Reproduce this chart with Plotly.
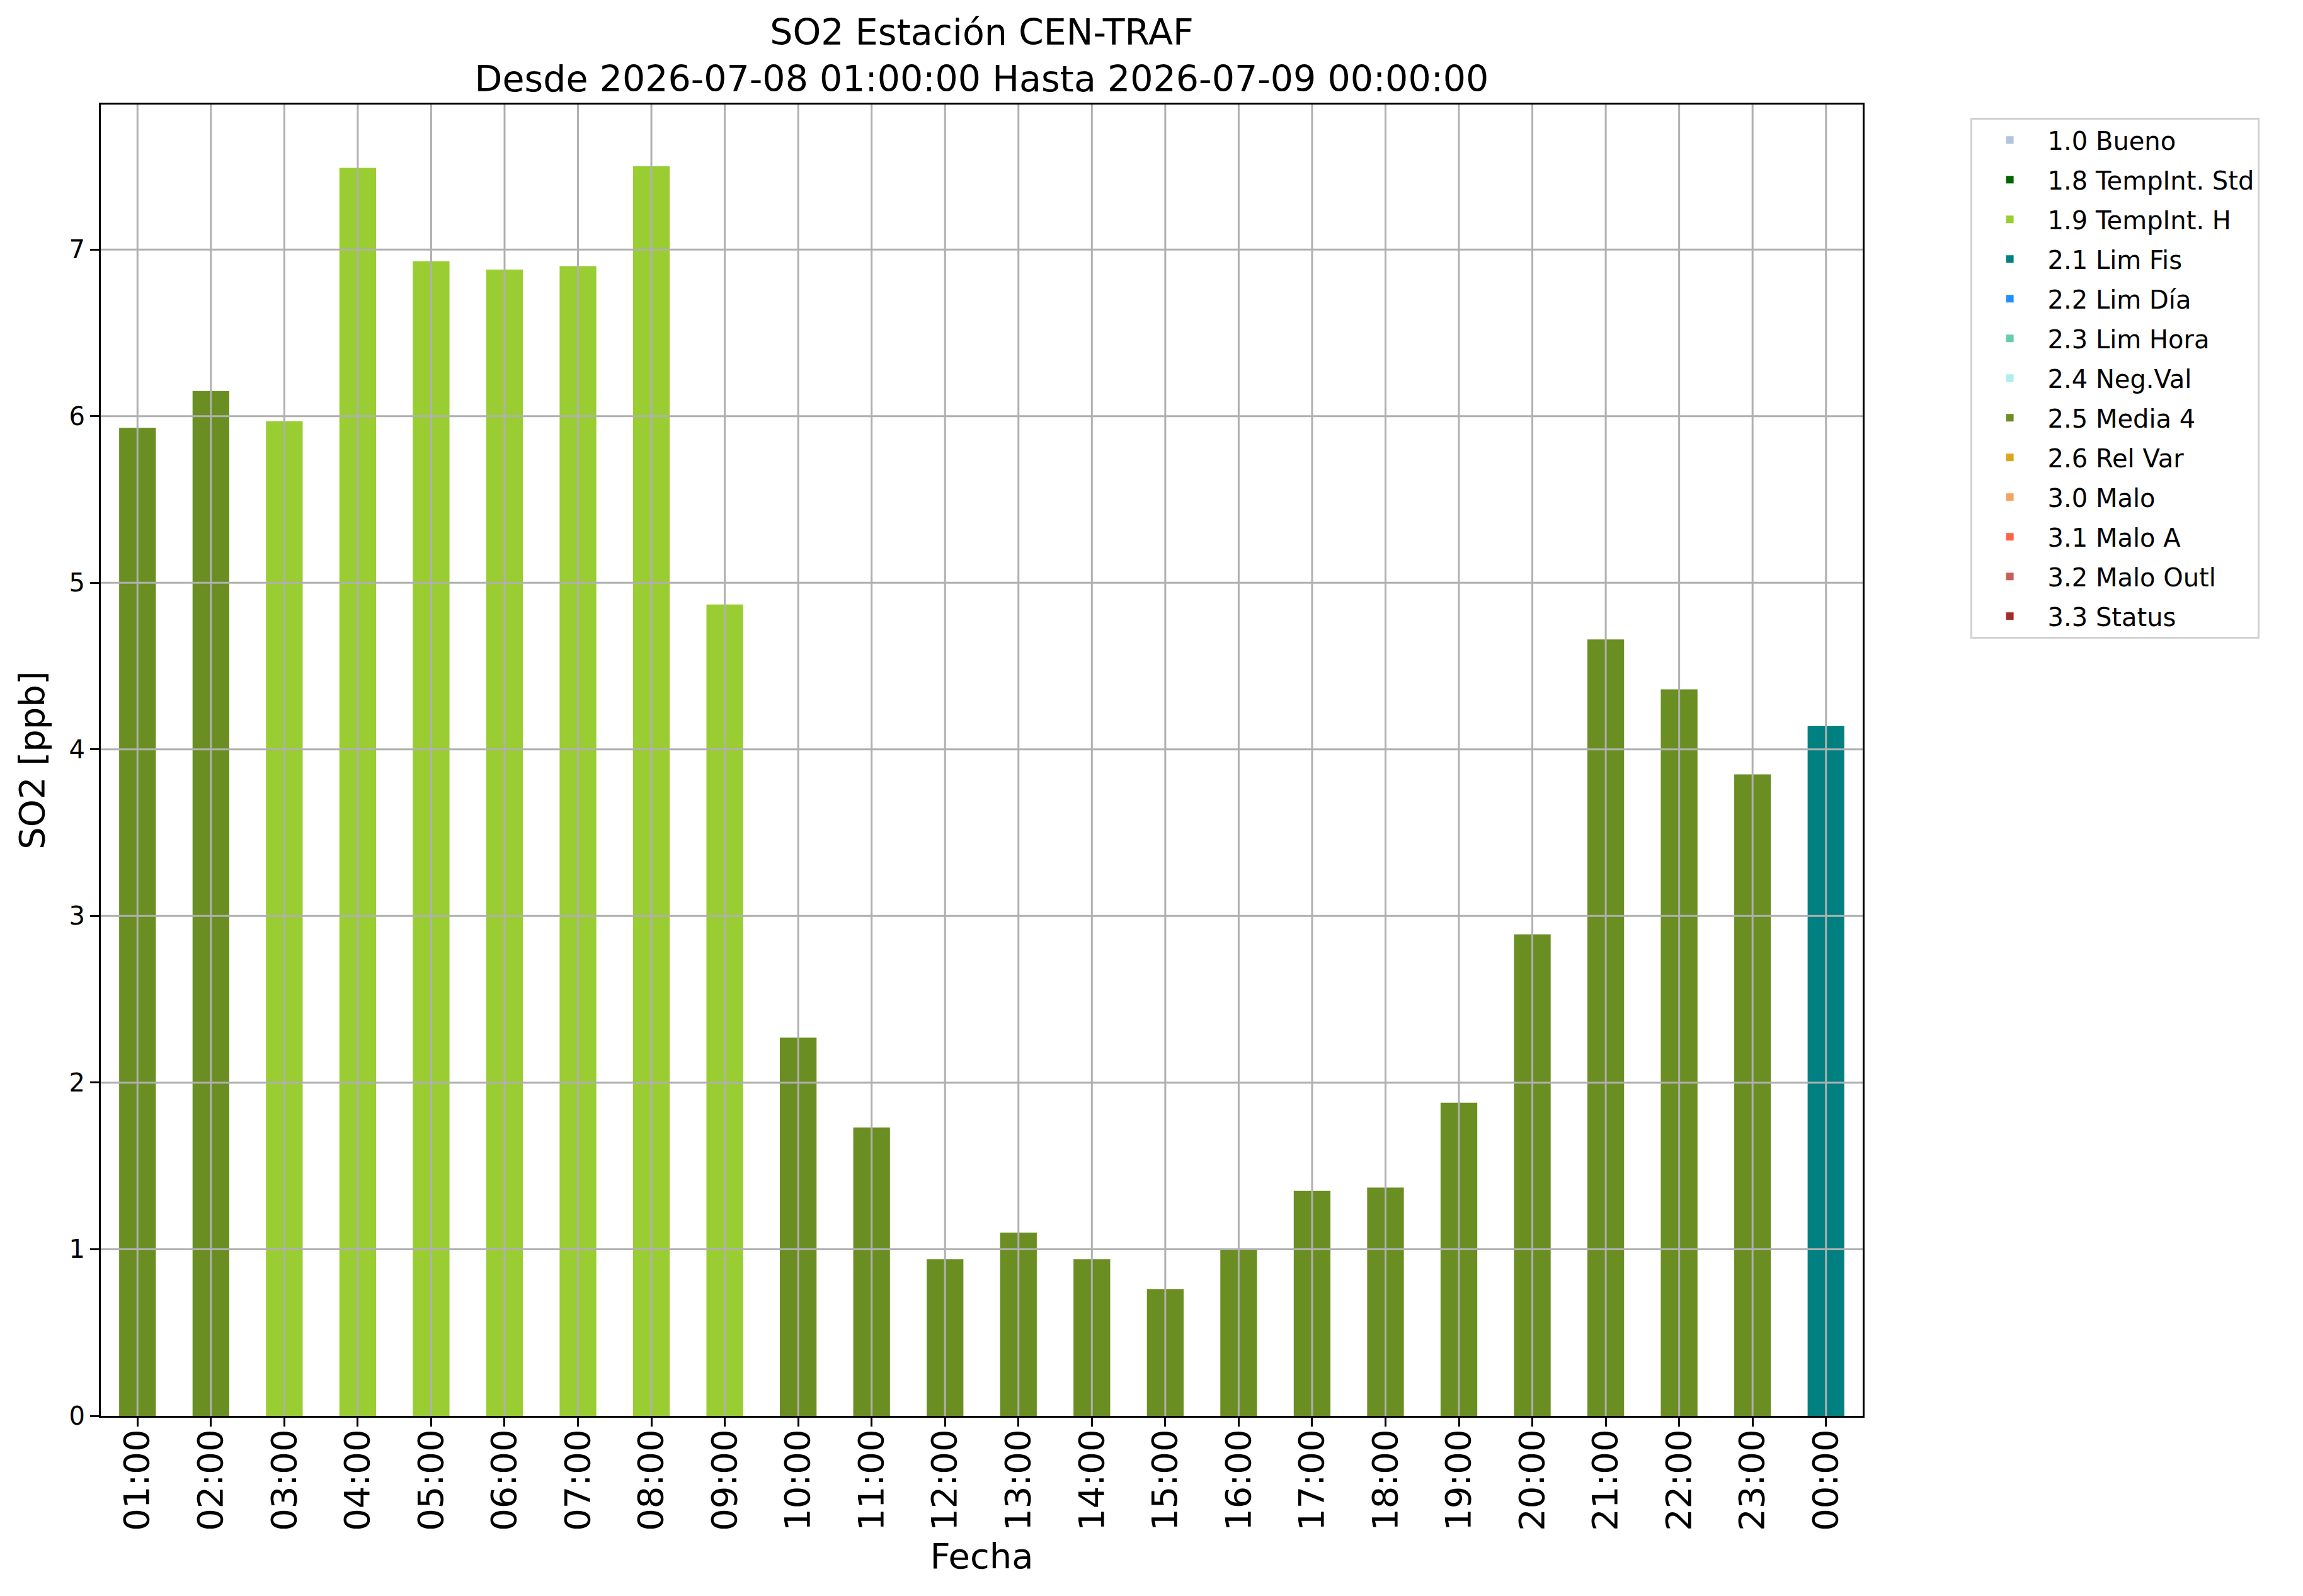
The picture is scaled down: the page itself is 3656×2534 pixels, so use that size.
import plotly.graph_objects as go

# hourly SO2 values, with the validation flag of each hour
hours = ["01:00", "02:00", "03:00", "04:00", "05:00", "06:00", "07:00", "08:00",
         "09:00", "10:00", "11:00", "12:00", "13:00", "14:00", "15:00", "16:00",
         "17:00", "18:00", "19:00", "20:00", "21:00", "22:00", "23:00", "00:00"]
so2_ppb = [5.93, 6.15, 5.97, 7.49, 6.93, 6.88, 6.90, 7.50,
           4.87, 2.27, 1.73, 0.94, 1.10, 0.94, 0.76, 1.00,
           1.35, 1.37, 1.88, 2.89, 4.66, 4.36, 3.85, 4.14]
flags = ["2.5", "2.5", "1.9", "1.9", "1.9", "1.9", "1.9", "1.9",
         "1.9", "2.5", "2.5", "2.5", "2.5", "2.5", "2.5", "2.5",
         "2.5", "2.5", "2.5", "2.5", "2.5", "2.5", "2.5", "2.1"]

flag_labels = ["1.0 Bueno", "1.8 TempInt. Std", "1.9 TempInt. H", "2.1 Lim Fis",
               "2.2 Lim Día", "2.3 Lim Hora", "2.4 Neg.Val", "2.5 Media 4",
               "2.6 Rel Var", "3.0 Malo", "3.1 Malo A", "3.2 Malo Outl", "3.3 Status"]
flag_colors = ["lightsteelblue", "darkgreen", "yellowgreen", "teal",
               "dodgerblue", "mediumaquamarine", "paleturquoise", "olivedrab",
               "goldenrod", "sandybrown", "tomato", "indianred", "brown"]
y_ticks = [0, 1, 2, 3, 4, 5, 6, 7]

FONT = "DejaVu Sans"
W, H = 3656, 2534
BODY = 8  # default body margin of the html page

fig = go.Figure()
for lab, col in zip(flag_labels, flag_colors):
    code = lab.split()[0]
    xs = [h for h, f in zip(hours, flags) if f == code]
    ys = [v for v, f in zip(so2_ppb, flags) if f == code]
    if not xs:
        # flag not present in this period: keep it in the legend anyway
        xs, ys = [hours[0]], [None]
    fig.add_trace(go.Bar(x=xs, y=ys, name=lab, legendgroup=lab,
                         marker=dict(color=col, line=dict(width=0)),
                         width=0.5))

# matplotlib draws the grid on top of the bars, so use shapes above the traces
grid = dict(color="#b0b0b0", width=3)
for h in hours:
    fig.add_shape(type="line", xref="x", yref="paper", x0=h, x1=h, y0=0, y1=1,
                  line=grid, layer="above")
for t in y_ticks[1:]:
    fig.add_shape(type="line", xref="paper", yref="y", x0=0, x1=1, y0=t, y1=t,
                  line=grid, layer="above")

fig.update_layout(
    width=W, height=H,
    margin=dict(l=160 - BODY, r=699 + BODY, t=166 - BODY, b=286 + BODY),
    paper_bgcolor="white", plot_bgcolor="white",
    barmode="overlay",
    font=dict(family=FONT, color="black"),
    title=dict(text="SO2 Estación CEN-TRAF<br>Desde 2026-07-08 01:00:00 Hasta 2026-07-09 00:00:00",
               x=0.5, xref="paper", xanchor="center",
               y=1 - 63 / H, yref="container", yanchor="top",
               font=dict(size=57, family=FONT)),
    legend=dict(x=1.061, y=0.99, xanchor="left", yanchor="top",
                traceorder="grouped", tracegroupgap=8, itemwidth=110,
                font=dict(size=40, family=FONT),
                bordercolor="#d0d0d0", borderwidth=3, bgcolor="white"),
    showlegend=True,
)
fig.update_xaxes(
    type="category", categoryorder="array", categoryarray=hours,
    range=[-0.5, len(hours) - 0.5],
    showgrid=False, showline=True, linecolor="black", linewidth=3, mirror=True,
    ticks="outside", ticklen=14, tickwidth=3, tickcolor="black",
    tickangle=-90, tickfont=dict(size=56, family=FONT), ticklabelstandoff=-18,
    title=dict(text="Fecha", font=dict(size=56, family=FONT), standoff=22),
)
fig.update_yaxes(
    range=[0, 7.87], tickvals=y_ticks,
    showgrid=False, zeroline=False,
    showline=True, linecolor="black", linewidth=3, mirror=True,
    ticks="outside", ticklen=14, tickwidth=3, tickcolor="black",
    tickfont=dict(size=40, family=FONT),
    title=dict(text="SO2 [ppb]", font=dict(size=56, family=FONT), standoff=21),
)

fig.write_html("out.html")
